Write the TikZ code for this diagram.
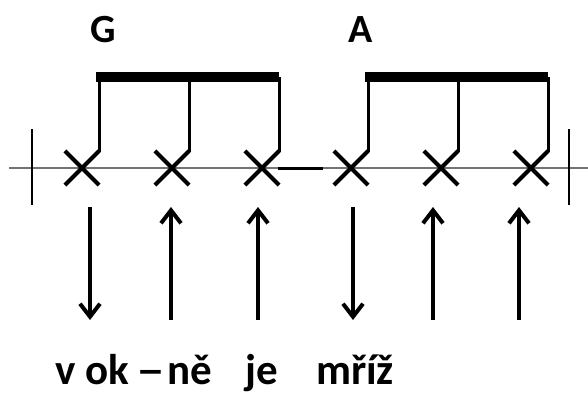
\documentclass[tikz,border=0pt]{standalone}
\usepackage{fontspec}
\setmainfont{Carlito}
\usetikzlibrary{shapes.misc,arrows.meta}
\begin{document}
\begin{tikzpicture}[x=1pt,y=-1pt,
  xmark/.style={draw,cross out,minimum size=30pt,inner sep=0pt,line width=4.2pt},
  stemline/.style={line width=3.2pt},
  beamline/.style={line width=10pt},
  staffline/.style={line width=1.4pt,draw=black!55},
  barline/.style={line width=2pt},
  strum/.style={line width=4pt,-{Straight Barb[length=13pt,width=20pt,line width=4pt]}},
  chord/.style={font=\fontsize{40}{44}\selectfont\bfseries,anchor=base},
  lyric/.style={font=\fontsize{43}{48}\selectfont\bfseries,anchor=base,inner sep=0pt}]
\useasboundingbox (0,0) rectangle (588,394);
% staff line
\coordinate (sL) at (9,168);
\coordinate (sR) at (588,168);
\coordinate (tL) at (278,168);
\coordinate (tR) at (323,168);
\draw[staffline] (sL) -- (sR);
\draw[line width=3pt] (tL) -- (tR);
% barlines
\coordinate (b1t) at (32,129); \coordinate (b1b) at (32,205);
\coordinate (b2t) at (569,129); \coordinate (b2b) at (569,205);
\draw[barline] (b1t) -- (b1b);
\draw[barline] (b2t) -- (b2b);
% x marks
\node[xmark] (x1) at (82,168) {};
\node[xmark] (x2) at (172,168) {};
\node[xmark] (x3) at (262,168) {};
\node[xmark] (x4) at (351,168) {};
\node[xmark] (x5) at (441,168) {};
\node[xmark] (x6) at (531,168) {};
% stems
\foreach \i in {1,...,6}{
  \coordinate (s\i) at ([yshift=-1pt]x\i.north east);
  \draw[stemline] (s\i) -- (s\i |- 0,77);
}
% beams
\coordinate (g1) at (95.5,77); \coordinate (g2) at (278.5,77);
\coordinate (h1) at (364.5,77); \coordinate (h2) at (547.5,77);
\draw[beamline] (g1) -- (g2);
\draw[beamline] (h1) -- (h2);
% chord names
\node[chord] (cG) at (103,42) {G};
\node[chord] (cA) at (361,42) {A};
% strums
\foreach \n/\x in {1/90,2/171,3/258,4/353,5/433,6/519}{
  \coordinate (at\n) at (\x,207);
  \coordinate (ab\n) at (\x,320);
}
\draw[strum] (at1) -- (ab1);
\draw[strum] (ab2) -- (at2);
\draw[strum] (ab3) -- (at3);
\draw[strum] (at4) -- (ab4);
\draw[strum] (ab5) -- (at5);
\draw[strum] (ab6) -- (at6);
% lyrics
\node[lyric] (l1) at (65.5,384) {v};
\node[lyric] (l2) at (107.5,384) {ok};
\node[lyric] (l3) at (151,384) {\scalebox{1.35}[1]{–}};
\node[lyric] (l4) at (189.5,384) {ně};
\node[lyric] (l5) at (262,384) {je};
\node[lyric] (l6) at (355,384) {mříž};
\end{tikzpicture}
\end{document}
